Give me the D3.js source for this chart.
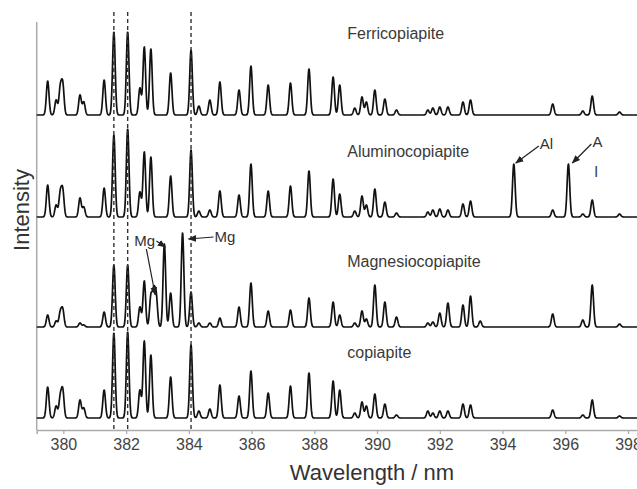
<!DOCTYPE html>
<html><head><meta charset="utf-8">
<script src="https://cdn.jsdelivr.net/npm/d3@7"></script>
<style>html,body{margin:0;padding:0;background:#fff;}svg{display:block;font-family:"Liberation Sans",Arial,sans-serif;}</style>
</head><body>
<svg id="chart" width="637" height="489"></svg>
<script>
// Peak positions (nm) shared by all spectra
const peakPositions = [379.50,379.77,379.90,379.98,380.53,380.65,381.30,381.61,382.05,382.44,382.58,382.79,382.88,382.96,383.22,383.42,383.80,384.07,384.32,384.67,384.99,385.60,385.98,386.53,387.24,387.83,388.60,388.81,389.29,389.52,389.66,389.93,390.25,390.62,391.62,391.78,392.00,392.26,392.74,392.98,393.29,394.36,395.60,396.10,396.56,396.86,397.73];
// Peak heights per spectrum (arbitrary intensity units)
const ferriHeights  = [34,15,26,30,20,13,35,83,83,27,68,66,0,0,0,42,0,65,9,15,33,25,49,30,32,46,38,30,7,18,13,25,16,5,5,7,8,8,13,15,0,0,11,0,4,19,3];
const aluHeights    = [32,12,23,26,19,10,29,82,88,25,65,60,0,0,0,41,0,67,6,7,26,22,53,26,31,46,38,23,6,21,12,28,15,4,5,7,8,7,13,16,0,53,7,53,3,17,3];
const magHeights    = [12,6,14,17,4,2,15,62,62,20,46,30,33,30,83,34,94,35,4,4,9,20,44,16,17,29,25,12,4,16,8,42,25,10,4,5,14,24,22,31,6,0,13,0,7,42,3];
const copHeights    = [31,12,20,27,18,10,28,85,86,28,77,63,0,0,0,41,0,73,7,9,33,22,47,25,32,45,37,28,5,16,12,24,14,3,7,5,7,7,14,13,0,0,8,0,3,18,2];
const seriesNames   = ["Ferricopiapite","Aluminocopiapite","Magnesiocopiapite","copiapite"];
const seriesOffsets = [315,213,103,12];
const labelLevels   = [391,273,163,72];
const dashedLines   = [381.61,382.05,384.07];
const xTicks        = [380,382,384,386,388,390,392,394,396,398];

const heights = [ferriHeights, aluHeights, magHeights, copHeights];

const svg = d3.select("#chart");
const x = d3.scaleLinear().domain([379.15, 398.3]).range([36.7, 637.4]);
const y = d3.scaleLinear().domain([0, 408]).range([430, 22]);
const sigma = 0.042;
const grid = d3.range(379.15, 398.3, 0.008);

function spectrum(h, off) {
  return grid.map(w => {
    let v = off;
    for (let i = 0; i < peakPositions.length; i++) {
      if (h[i] === 0) continue;
      const d = w - peakPositions[i];
      if (Math.abs(d) > 0.35) continue;
      v += h[i] * Math.exp(-d * d / (2 * sigma * sigma));
    }
    return [w, v];
  });
}

const line = d3.line().x(d => x(d[0])).y(d => y(d[1]));

// axes
svg.append("line").attr("x1", x.range()[0]).attr("x2", x.range()[0]).attr("y1", y(408)).attr("y2", y(0))
  .attr("stroke", "#aaa").attr("stroke-width", 1.5);
const xAxis = svg.append("g").attr("transform", `translate(0,${y(0)})`)
  .call(d3.axisBottom(x).tickValues(xTicks).tickSize(4).tickPadding(5).tickFormat(d3.format("d")));
xAxis.select(".domain").attr("stroke", "#aaa").attr("stroke-width", 1.5);
xAxis.selectAll(".tick line").attr("stroke", "#aaa").attr("stroke-width", 1.2);
xAxis.selectAll(".tick text").attr("fill", "#444").attr("font-size", 16).attr("font-family", "Liberation Sans, Arial, sans-serif");

// spectra
heights.forEach((h, i) => {
  svg.append("path").datum(spectrum(h, seriesOffsets[i])).attr("d", line)
    .attr("fill", "none").attr("stroke", "#111").attr("stroke-width", 1.7).attr("stroke-linejoin", "round");
  svg.append("text").attr("x", x(389.05)).attr("y", y(labelLevels[i])).text(seriesNames[i])
    .attr("font-size", 16).attr("fill", "#3a3a3a");
});

// dashed reference lines
dashedLines.forEach(w => {
  svg.append("line").attr("x1", x(w)).attr("x2", x(w)).attr("y1", 12).attr("y2", y(0))
    .attr("stroke", "#333").attr("stroke-width", 1.4).attr("stroke-dasharray", "4,3");
});

// arrow marker
svg.append("defs").append("marker").attr("id", "ah").attr("viewBox", "0 0 10 10")
  .attr("refX", 9).attr("refY", 5).attr("markerWidth", 7).attr("markerHeight", 7)
  .attr("orient", "auto-start-reverse").append("path").attr("d", "M0,1 L10,5 L0,9 Z").attr("fill", "#222");

function arrow(x1, y1, x2, y2) {
  svg.append("line").attr("x1", x1).attr("y1", y1).attr("x2", x2).attr("y2", y2)
    .attr("stroke", "#222").attr("stroke-width", 1.2).attr("marker-end", "url(#ah)");
}
function label(t, xx, yy) {
  svg.append("text").attr("x", xx).attr("y", yy).text(t).attr("font-size", 15).attr("fill", "#333");
}

// Al annotations
const alOff = seriesOffsets[1];
const pAl1 = peakPositions.indexOf(394.36), pAl2 = peakPositions.indexOf(396.10);
arrow(x(394.36) + 25, y(alOff + aluHeights[pAl1]) - 18, x(394.36) + 2, y(alOff + aluHeights[pAl1]) - 1);
label("Al", x(394.36) + 26, y(alOff + aluHeights[pAl1]) - 15);
arrow(x(396.10) + 23, y(alOff + aluHeights[pAl2]) - 20, x(396.10) + 4, y(alOff + aluHeights[pAl2]) - 1);
label("A", x(396.10) + 24, y(alOff + aluHeights[pAl2]) - 17);
label("l", x(396.10) + 26, y(alOff + aluHeights[pAl2]) + 13);

// Mg annotations
const mgOff = seriesOffsets[2];
const pMg1 = peakPositions.indexOf(383.22), pMg2 = peakPositions.indexOf(383.80), pMg3 = peakPositions.indexOf(382.96);
label("Mg", x(383.22) - 30, y(mgOff + magHeights[pMg1]) + 2);
arrow(x(383.22) - 8, y(mgOff + magHeights[pMg1]) - 3, x(383.22) + 1, y(mgOff + magHeights[pMg1]) + 3);
arrow(x(383.22) - 18, y(mgOff + magHeights[pMg1]) + 5, x(382.96) - 1, y(mgOff + magHeights[pMg3]) - 2);
arrow(x(383.80) + 31, y(mgOff + magHeights[pMg2]) + 4, x(383.80) + 6, y(mgOff + magHeights[pMg2]) + 6);
label("Mg", x(383.80) + 32, y(mgOff + magHeights[pMg2]) + 9);

// axis titles
svg.append("text").attr("x", 372).attr("y", 480).attr("text-anchor", "middle").text("Wavelength / nm")
  .attr("font-size", 22).attr("fill", "#333");
svg.append("text").attr("transform", "translate(29,210) rotate(-90)").attr("text-anchor", "middle").text("Intensity")
  .attr("font-size", 22).attr("fill", "#333");
</script>
</body></html>
